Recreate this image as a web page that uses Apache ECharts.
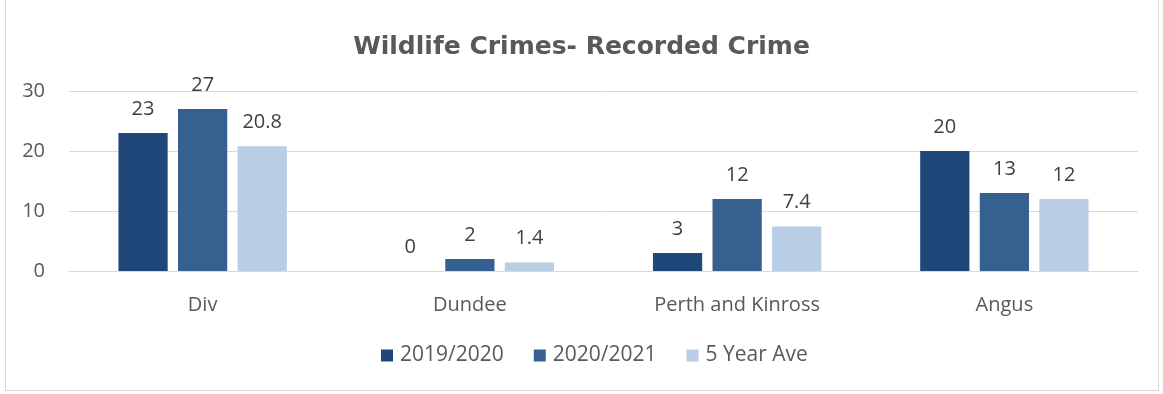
<!DOCTYPE html>
<html><head><meta charset="utf-8">
<script src="https://cdn.jsdelivr.net/npm/echarts@6/dist/echarts.min.js"></script>
<style>
html,body{margin:0;padding:0;background:#fff;}
#frame{position:absolute;left:5px;top:0px;width:1154px;height:391px;border:1px solid #d9d9d9;border-top:none;box-sizing:border-box;}
#c{position:absolute;left:0;top:0;width:1163px;height:394px;}
</style></head>
<body>
<div id="frame"></div>
<div id="c"></div>
<script>
const categories = ["Div", "Dundee", "Perth and Kinross", "Angus"];
const seriesNames = ["2019/2020", "2020/2021", "5 Year Ave"];
const s2019 = [23, 0, 3, 20];
const s2020 = [27, 2, 12, 13];
const s5yr = [20.8, 1.4, 7.4, 12];
const colors = ["#1f4779", "#36608f", "#b9cde5"];

const FONT = 'Open Sans';
const chart = echarts.init(document.getElementById('c'), null, {renderer: 'canvas'});
const labelCfg = {show: true, position: 'top', distance: 14, color: '#404040', fontSize: 20, fontFamily: FONT};
const mk = (name, data, color) => ({
  name, type: 'bar', data, barGap: '21%', barCategoryGap: '37%',
  itemStyle: {color}, label: labelCfg
});
chart.setOption({
  animation: false,
  title: {text: 'Wildlife Crimes- Recorded Crime', left: 'center', top: 30,
    textStyle: {color: '#595959', fontSize: 25, fontWeight: 'bold', fontFamily: 'DejaVu Sans'}},
  legend: {bottom: 23, left: 376, itemWidth: 12, itemHeight: 12, itemGap: 30,
    icon: 'rect', textStyle: {color: '#595959', fontSize: 21, fontFamily: FONT, padding: [0, 0, 0, 2]},
    data: seriesNames},
  grid: {left: 69, right: 25, top: 91, height: 180, containLabel: false},
  xAxis: {type: 'category', data: categories,
    axisLine: {lineStyle: {color: '#d9d9d9', width: 1}}, axisTick: {show: false},
    axisLabel: {color: '#595959', fontSize: 20, fontFamily: FONT, margin: 24}},
  yAxis: {type: 'value', min: 0, max: 30, interval: 10,
    axisLine: {show: false}, axisTick: {show: false},
    splitLine: {lineStyle: {color: '#d9d9d9', width: 1}},
    axisLabel: {color: '#595959', fontSize: 20, fontFamily: FONT, margin: 24}},
  series: [mk(seriesNames[0], s2019, colors[0]), mk(seriesNames[1], s2020, colors[1]), mk(seriesNames[2], s5yr, colors[2])]
});
</script>
</body></html>
